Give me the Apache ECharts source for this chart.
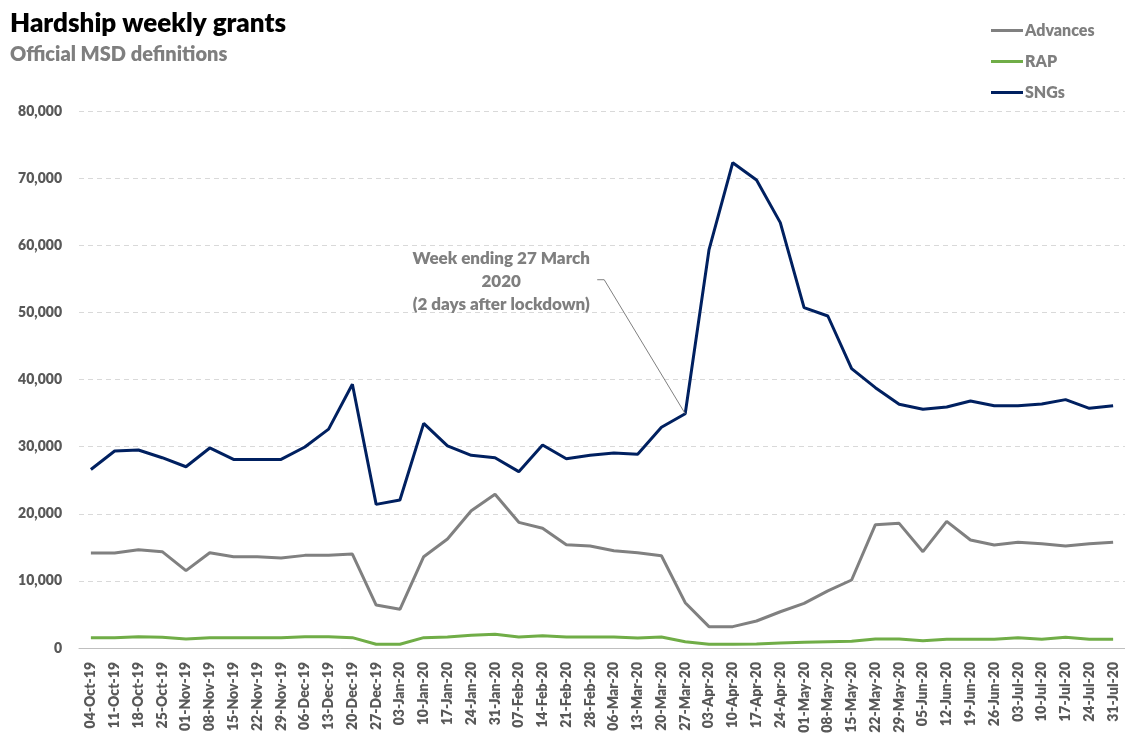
<!DOCTYPE html>
<html>
<head>
<meta charset="utf-8">
<script src="https://cdn.jsdelivr.net/npm/echarts@6/dist/echarts.min.js"></script>
<style>
html,body{margin:0;padding:0;background:#fff;}
#chart{width:1125px;height:738px;}
</style>
</head>
<body>
<div id="chart"></div>
<script>
const categories = ["04-Oct-19","11-Oct-19","18-Oct-19","25-Oct-19","01-Nov-19","08-Nov-19","15-Nov-19","22-Nov-19","29-Nov-19","06-Dec-19","13-Dec-19","20-Dec-19","27-Dec-19","03-Jan-20","10-Jan-20","17-Jan-20","24-Jan-20","31-Jan-20","07-Feb-20","14-Feb-20","21-Feb-20","28-Feb-20","06-Mar-20","13-Mar-20","20-Mar-20","27-Mar-20","03-Apr-20","10-Apr-20","17-Apr-20","24-Apr-20","01-May-20","08-May-20","15-May-20","22-May-20","29-May-20","05-Jun-20","12-Jun-20","19-Jun-20","26-Jun-20","03-Jul-20","10-Jul-20","17-Jul-20","24-Jul-20","31-Jul-20"];

const advances = [14150,14150,14650,14350,11520,14200,13600,13600,13400,13800,13800,14000,6400,5760,13600,16240,20450,22900,18720,17830,15390,15200,14500,14200,13750,6750,3180,3180,4020,5400,6650,8520,10130,18370,18570,14350,18870,16090,15350,15750,15540,15200,15540,15750];

const rap = [1540,1540,1680,1600,1340,1540,1540,1540,1540,1680,1680,1540,550,550,1540,1650,1890,2040,1650,1840,1650,1650,1650,1500,1650,940,550,550,600,750,850,940,1000,1340,1340,1090,1290,1290,1290,1540,1290,1590,1290,1290];

const sngs = [26600,29350,29500,28350,27000,29800,28100,28100,28100,29950,32600,39300,21400,22050,33470,30100,28700,28350,26270,30240,28200,28700,29050,28850,32880,34900,59300,72300,69720,63370,50700,49460,41610,38780,36300,35560,35900,36800,36100,36100,36350,37000,35700,36100];

const yTicks = {min: 0, max: 80000, interval: 10000};
const annotationText = "Week ending 27 March\n2020\n(2 days after lockdown)";
const annotationIndex = 25;

const FONT = "Lato";
const WS = 800;
const chart = echarts.init(document.getElementById('chart'));
chart.setOption({
  animation: false,
  backgroundColor: '#ffffff',
  title: {
    text: 'Hardship weekly grants',
    subtext: 'Official MSD definitions',
    left: 5, top: 6, itemGap: 8,
    textStyle: {fontFamily: FONT, fontSize: 26, fontWeight: WS, color: '#000000'},
    subtextStyle: {fontFamily: FONT, fontSize: 20, fontWeight: WS, color: '#7f7f7f'}
  },
  legend: {
    orient: 'vertical', left: 986, top: 16,
    icon: 'rect', itemWidth: 32, itemHeight: 3, itemGap: 12,
    textStyle: {fontFamily: FONT, fontSize: 16, fontWeight: WS, color: '#7f7f7f', lineHeight: 19, padding: [0,0,0,-3]},
    data: ['Advances','RAP','SNGs']
  },
  grid: {left: 79, right: -7, top: 111, bottom: 90, containLabel: false},
  xAxis: {
    type: 'category', data: categories, boundaryGap: true,
    axisLine: {lineStyle: {color: '#bfbfbf', width: 1}},
    axisTick: {show: false},
    axisLabel: {rotate: 90, interval: 0, margin: 14, fontFamily: FONT, fontSize: 14, fontWeight: WS, color: '#595959'}
  },
  yAxis: {
    type: 'value', min: yTicks.min, max: yTicks.max, interval: yTicks.interval,
    axisLine: {show: false}, axisTick: {show: false},
    splitLine: {lineStyle: {color: '#d9d9d9', type: [5,4], width: 1}},
    axisLabel: {margin: 17, fontFamily: FONT, fontSize: 14, fontWeight: WS, color: '#595959',
      formatter: v => v.toLocaleString('en-US')}
  },
  series: [
    {name: 'Advances', type: 'line', data: advances, symbol: 'none', lineStyle: {color: '#808080', width: 3}, itemStyle: {color: '#808080'}, z: 2},
    {name: 'RAP', type: 'line', data: rap, symbol: 'none', lineStyle: {color: '#70ad47', width: 3}, itemStyle: {color: '#70ad47'}, z: 3},
    {name: 'SNGs', type: 'line', data: sngs, symbol: 'none', lineStyle: {color: '#002060', width: 3}, itemStyle: {color: '#002060'}, z: 4}
  ]
});

// Annotation anchored on the data point via the chart's own scales
const p = chart.convertToPixel({gridIndex: 0}, [annotationIndex, sngs[annotationIndex]]);
const tx = p[0] - 184, ty = p[1] - 167;
chart.setOption({
  graphic: [
    {type: 'polyline', silent: true, z: 10,
     shape: {points: [[p[0]-88, p[1]-134], [p[0]-81, p[1]-134], [p[0], p[1]]]},
     style: {stroke: '#808080', lineWidth: 1, fill: null}},
    {type: 'text', silent: true, z: 10,
     x: tx, y: ty,
     style: {text: annotationText, fontFamily: FONT, fontSize: 17, fontWeight: WS, fill: '#7f7f7f',
       align: 'center', verticalAlign: 'top', lineHeight: 23}}
  ]
});
</script>
</body>
</html>
